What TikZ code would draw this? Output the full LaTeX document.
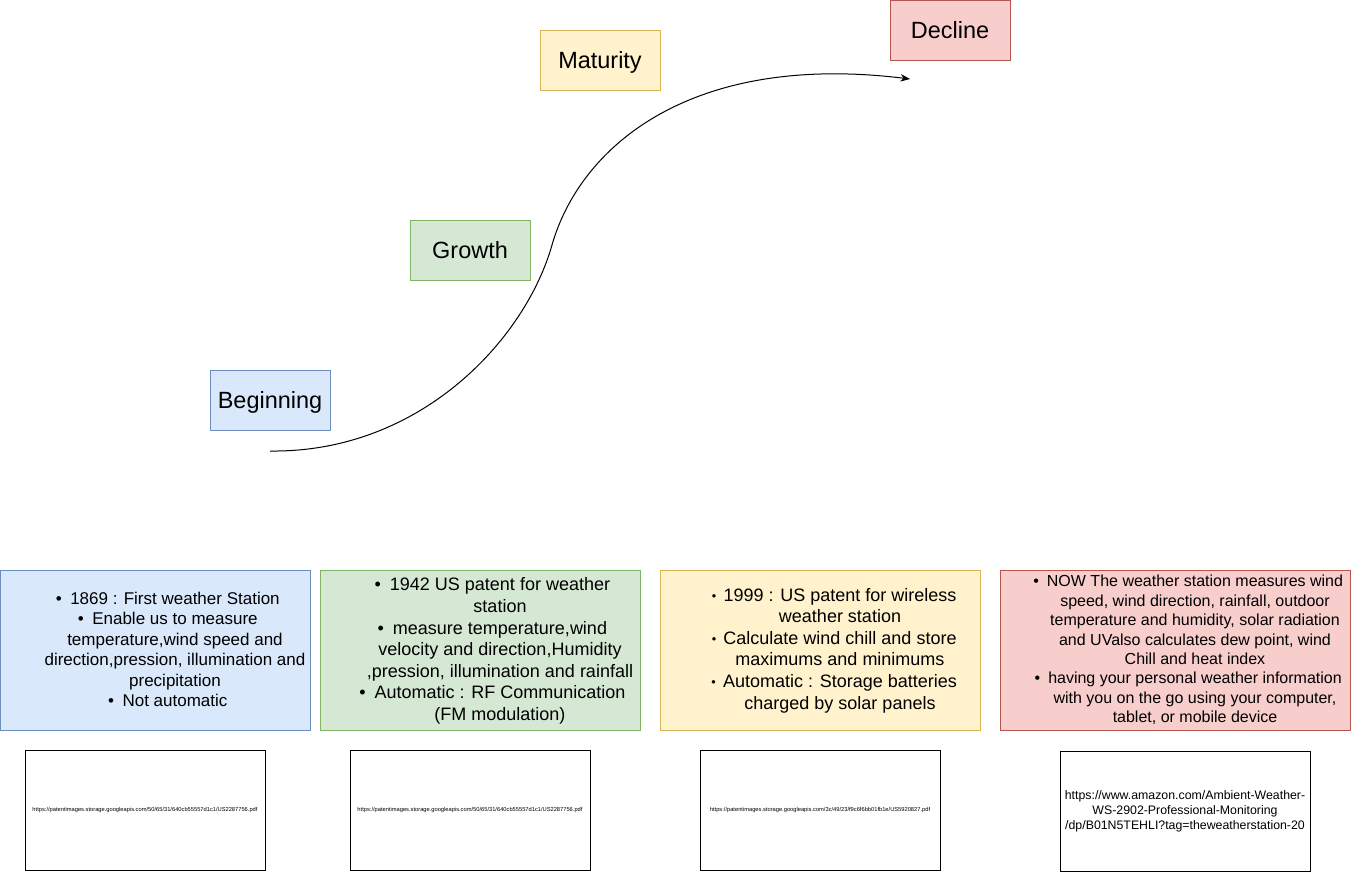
\documentclass[tikz,border=0pt]{standalone}
\usepackage{fontspec}
\setmainfont{Liberation Sans}
\usetikzlibrary{arrows.meta}
\definecolor{bluef}{HTML}{DAE8FC}\definecolor{blued}{HTML}{6C8EBF}
\definecolor{greenf}{HTML}{D5E8D4}\definecolor{greend}{HTML}{82B366}
\definecolor{yellowf}{HTML}{FFF2CC}\definecolor{yellowd}{HTML}{D6B656}
\definecolor{redf}{HTML}{F8CECC}\definecolor{redd}{HTML}{B85450}
\newcommand{\mybul}{\llap{•\hspace{0.5em}}}
\newcommand{\mysmbul}{\llap{\raisebox{0.1ex}{\fontsize{9.5}{9.5}\selectfont •}\hspace{0.4em}}}
\tikzset{
  stage/.style={draw, line width=0.75pt, minimum width=90pt, minimum height=45pt, inner sep=0pt, font=\fontsize{17.6}{20}\selectfont, text depth=0pt, text height=12.6pt},
  infobox/.style={draw, line width=0.75pt, minimum width=#1, minimum height=120pt, inner sep=0pt},
  infotext/.style={align=center, inner sep=0pt},
  urlbox/.style={draw=black, line width=0.75pt, minimum width=#1, minimum height=90pt, inner sep=0pt},
  curve/.style={line width=0.75pt, -{Stealth[length=7pt,width=5.5pt,inset=2pt]}}
}
\begin{document}
\begin{tikzpicture}[x=0.75pt,y=-0.75pt]
\useasboundingbox (0,0) rectangle (1351,871);
% stage labels
\node[stage, fill=bluef, draw=blued] (beg) at (270,400) {Beginning};
\node[stage, fill=greenf, draw=greend] (gro) at (470,250) {Growth};
\node[stage, fill=yellowf, draw=yellowd] (mat) at (600,60) {Maturity};
\node[stage, fill=redf, draw=redd] (dec) at (950,30) {Decline};
% S-curve
\coordinate (cs) at (270,451);
\coordinate (cm) at (552,245);
\coordinate (ce) at (910,79);
\draw[curve] (cs) .. controls (420,453) and (525,340) .. (cm) .. controls (580,147) and (690,52) .. (ce);
% info boxes
\node[infobox=232.5pt, fill=bluef, draw=blued] (b1) at (155,650) {};
\node[infobox=240pt, fill=greenf, draw=greend] (b2) at (480,650) {};
\node[infobox=240pt, fill=yellowf, draw=yellowd] (b3) at (820,650) {};
\node[infobox=262.5pt, fill=redf, draw=redd] (b4) at (1175,650) {};
\node[infotext, font=\fontsize{12.75}{15.3}\selectfont] (t1) at (175,649.5) {\mybul 1869 : First weather Station\\ \mybul Enable us to measure\\ temperature,wind speed and\\ direction,pression, illumination and\\ precipitation\\ \mybul Not automatic};
\node[infotext, font=\fontsize{13.5}{16.2}\selectfont] (t2) at (500,651) {\mybul 1942 US patent for weather\\ station\\ \mybul measure temperature,wind\\ velocity and direction,Humidity\\ ,pression, illumination and rainfall\\ \mybul Automatic : RF Communication\\ (FM modulation)};
\node[infotext, font=\fontsize{13.5}{16.2}\selectfont] (t3) at (840,650.5) {\mysmbul 1999 : US patent for wireless\\ weather station\\ \mysmbul Calculate wind chill and store\\ maximums and minimums\\ \mysmbul Automatic : Storage batteries\\ charged by solar panels};
\node[infotext, font=\fontsize{12}{14.55}\selectfont] (t4) at (1195,650) {\mybul NOW The weather station measures wind\\ speed, wind direction, rainfall, outdoor\\ temperature and humidity, solar radiation\\ and UValso calculates dew point, wind\\ Chill and heat index\\ \mybul having your personal weather information\\ with you on the go using your computer,\\ tablet, or mobile device};
% url boxes
\node[urlbox=180pt, font=\fontsize{4.3}{5}\selectfont] (u1) at (145,810) {https://patentimages.storage.googleapis.com/50/65/31/640cb55557d1c1/US2287756.pdf};
\node[urlbox=180pt, font=\fontsize{4.3}{5}\selectfont] (u2) at (470,810) {https://patentimages.storage.googleapis.com/50/65/31/640cb55557d1c1/US2287756.pdf};
\node[urlbox=180pt, font=\fontsize{4.3}{5}\selectfont] (u3) at (820,810) {https://patentimages.storage.googleapis.com/3c/49/23/f9c6f6bb01fb1e/US5920827.pdf};
\node[urlbox=187.5pt, align=center, font=\fontsize{9.25}{11.25}\selectfont] (u4) at (1185,811.5) {https://www.amazon.com/Ambient-Weather-\\ WS-2902-Professional-Monitoring\\ /dp/B01N5TEHLI?tag=theweatherstation-20};
\end{tikzpicture}
\end{document}
